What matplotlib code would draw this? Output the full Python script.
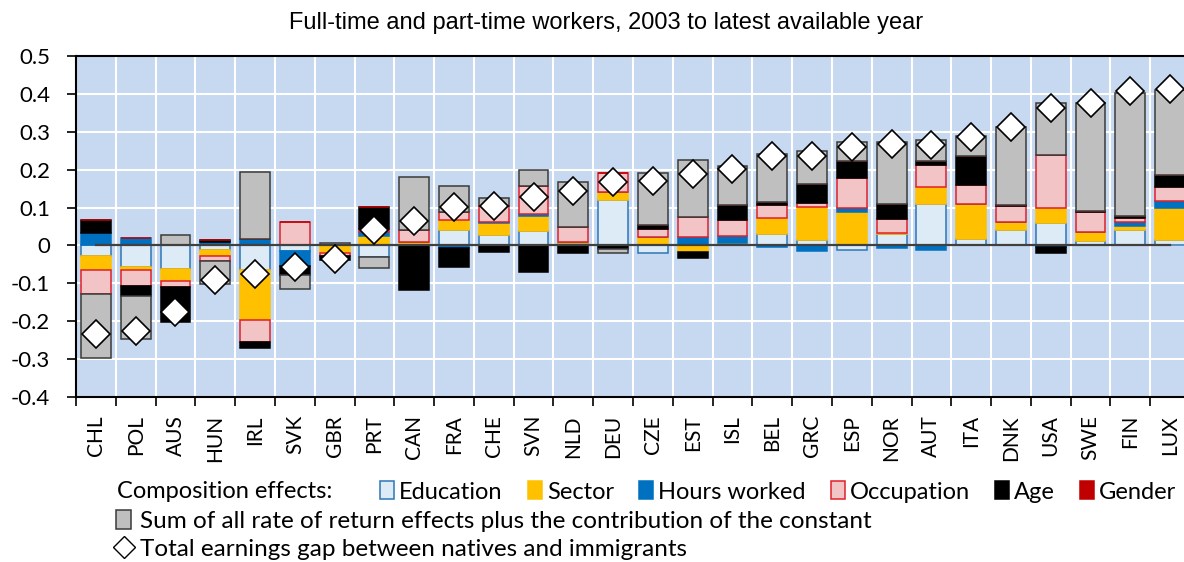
import numpy as np
import matplotlib
matplotlib.use("Agg")
import matplotlib.pyplot as plt
from matplotlib.patches import Patch
from matplotlib.lines import Line2D

countries = ["CHL", "POL", "AUS", "HUN", "IRL", "SVK", "GBR", "PRT", "CAN", "FRA",
             "CHE", "SVN", "NLD", "DEU", "CZE", "EST", "ISL", "BEL", "GRC", "ESP",
             "NOR", "AUT", "ITA", "DNK", "USA", "SWE", "FIN", "LUX"]

# composition effects
education = [-0.029, -0.057, -0.062, -0.013, -0.064, -0.015, 0.0, -0.031, 0.0, 0.042,
             0.028, 0.037, 0.006, 0.120, -0.020, 0.0, 0.0, 0.029, 0.014, -0.011,
             0.030, 0.109, 0.018, 0.040, 0.060, 0.013, 0.041, 0.015]
sector = [-0.036, -0.007, -0.033, -0.014, -0.133, 0.0, -0.020, 0.024, 0.009, 0.026,
          0.031, 0.042, 0.004, 0.020, 0.021, -0.018, 0.006, 0.044, 0.088, 0.088,
          0.004, 0.044, 0.091, 0.023, 0.040, 0.022, 0.011, 0.084]
hours = [0.033, 0.019, 0.0, 0.010, 0.018, -0.040, 0.0, 0.011, 0.0, -0.008,
         0.004, 0.005, 0.0, 0.0, 0.0, 0.021, 0.018, -0.004, -0.015, 0.011,
         -0.008, -0.011, 0.0, 0.0, -0.003, 0.0, 0.011, 0.019]
occupation = [-0.062, -0.042, -0.015, -0.013, -0.058, 0.062, -0.008, 0.008, 0.033, 0.020,
              0.040, 0.074, 0.040, 0.050, 0.023, 0.055, 0.042, 0.035, 0.009, 0.080,
              0.035, 0.058, 0.051, 0.040, 0.138, 0.053, 0.010, 0.035]
age = [0.035, -0.028, -0.092, 0.004, -0.015, -0.022, -0.010, 0.058, -0.118, -0.048,
       -0.018, -0.070, -0.021, -0.009, 0.011, -0.016, 0.040, 0.007, 0.051, 0.044,
       0.040, 0.012, 0.076, 0.004, -0.016, 0.004, 0.004, 0.033]
gender = [0.0] * 28
# sum of rate of return effects + constant
returns = [-0.171, -0.112, 0.028, -0.062, 0.175, -0.038, 0.006, -0.029, 0.138, 0.068,
           0.021, 0.040, 0.117, -0.011, 0.136, 0.150, 0.104, 0.127, 0.086, 0.051,
           0.164, 0.055, 0.054, 0.205, 0.139, 0.283, 0.325, 0.223]
total_gap = [-0.233, -0.227, -0.176, -0.090, -0.075, -0.057, -0.036, 0.040, 0.065, 0.101,
             0.103, 0.128, 0.144, 0.167, 0.169, 0.189, 0.201, 0.237, 0.237, 0.261,
             0.268, 0.266, 0.286, 0.312, 0.362, 0.376, 0.408, 0.412]

yticks = [0.5, 0.4, 0.3, 0.2, 0.1, 0, -0.1, -0.2, -0.3, -0.4]
ylabels = ["0.5", "0.4", "0.3", "0.2", "0.1", "0", "-0.1", "-0.2", "-0.3", "-0.4"]

series = [
    ("Education", education, "#DDEBF7", "#2E75B6"),
    ("Sector", sector, "#FFC000", "#FFC000"),
    ("Hours worked", hours, "#0070C0", "#0070C0"),
    ("Occupation", occupation, "#F2C4C6", "#E0202A"),
    ("Age", age, "#000000", "#000000"),
    ("Gender", gender, "#C00000", "#C00000"),
    ("Sum", returns, "#BFBFBF", "#3A3A3A"),
]

plt.rcParams["font.family"] = ["Lato", "DejaVu Sans"]

fig = plt.figure(figsize=(11.84, 5.62), dpi=100)
ax = fig.add_axes([76 / 1184, 1 - 397 / 562, 1114 / 1184, 341 / 562])
ax.set_facecolor("#C6D9F1")

x = np.arange(len(countries))
pos = np.zeros(len(countries))
neg = np.zeros(len(countries))
for name, vals, fc, ec in series:
    v = np.array(vals)
    bottom = np.where(v >= 0, pos, neg)
    ax.bar(x, v, 0.75, bottom=bottom, color=fc, edgecolor=ec, linewidth=1.1, zorder=2)
    pos = pos + np.where(v > 0, v, 0)
    neg = neg + np.where(v < 0, v, 0)

ax.plot([x[0], x[-1]], [0, 0], color="#404040", lw=1.6, zorder=3)
ax.plot(x, total_gap, linestyle="none", marker="D", markersize=14,
        markerfacecolor="white", markeredgecolor="black", markeredgewidth=1.2, zorder=4)

ax.set_xlim(-0.5, len(countries) - 0.5)
ax.set_ylim(-0.4, 0.5)
ax.set_yticks(yticks)
ax.set_yticklabels(ylabels, fontsize=16)
ax.set_xticks(x)
ax.set_xticklabels(countries, rotation=90, fontsize=15)
ax.set_xticks(np.arange(len(countries) + 1) - 0.5, minor=True)
ax.tick_params(axis="x", which="major", length=0, pad=13)
ax.tick_params(axis="x", which="minor", length=6.5, width=1.2, direction="out")
ax.tick_params(axis="y", length=6.5, width=1.2, direction="out", pad=12)

ax.set_axisbelow(True)
ax.grid(axis="y", which="major", color="white", lw=1.5)
ax.grid(axis="x", which="minor", color="white", lw=1.5)
for s in ["left", "bottom", "top"]:
    ax.spines[s].set_linewidth(1.5)
    ax.spines[s].set_color("black")
ax.spines["right"].set_visible(False)

fig.text(606 / 1184, 1 - 23 / 562, "Full-time and part-time workers, 2003 to latest available year",
         ha="center", va="center", fontsize=17, family=["Liberation Sans", "DejaVu Sans"])

# legend rows
lsize = 17
fig.text(117 / 1184, 1 - 492 / 562, "Composition effects:", ha="left", va="center", fontsize=lsize)
handles1 = [Patch(facecolor=fc, edgecolor=ec, linewidth=1.1) for _, _, fc, ec in series[:6]]
labels1 = [n for n, _, _, _ in series[:6]]
fig.legend(handles1, labels1, ncol=6, loc="center left", bbox_to_anchor=(380 / 1184, 1 - 492 / 562),
           frameon=False, borderpad=0, borderaxespad=0, handlelength=0.6, handleheight=0.8,
           handletextpad=0.22, columnspacing=1.05, prop={"size": lsize})
fig.legend([Patch(facecolor="#BFBFBF", edgecolor="#3A3A3A", linewidth=1.1)],
           ["Sum of all rate of return effects plus the contribution of the constant"],
           loc="center left", bbox_to_anchor=(116 / 1184, 1 - 521 / 562),
           frameon=False, borderpad=0, borderaxespad=0, handlelength=0.6, handleheight=0.8,
           handletextpad=0.4, prop={"size": 17.5})
fig.legend([Line2D([], [], linestyle="none", marker="D", markersize=11, markerfacecolor="white",
                   markeredgecolor="black", markeredgewidth=1.0)],
           ["Total earnings gap between natives and immigrants"],
           loc="center left", bbox_to_anchor=(112 / 1184, 1 - 549 / 562),
           frameon=False, borderpad=0, borderaxespad=0, handlelength=1.0,
           handletextpad=0.15, prop={"size": 17.5})

fig.savefig("out.png", dpi=100)
